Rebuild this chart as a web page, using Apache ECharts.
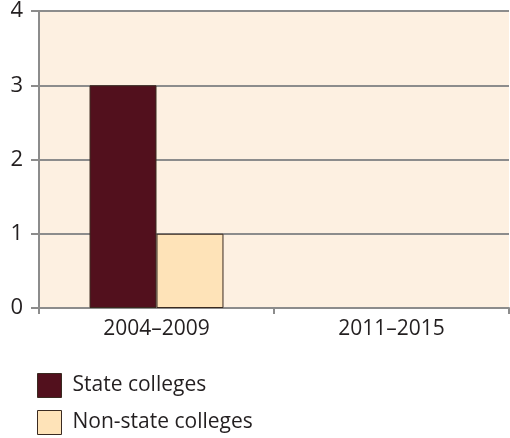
<!DOCTYPE html>
<html><head><meta charset="utf-8">
<script src="https://cdn.jsdelivr.net/npm/echarts@6/dist/echarts.min.js"></script>
<style>html,body{margin:0;padding:0;background:#fff}#c{width:510px;height:438px}</style>
</head><body><div id="c"></div>
<script>
const categories = ['2004–2009', '2011–2015'];
const stateColleges = [3, 0];
const nonStateColleges = [1, 0];
const yTicks = [0, 1, 2, 3, 4];

const chart = echarts.init(document.getElementById('c'), null, {renderer: 'canvas'});
const font = '"Open Sans", sans-serif';
const hideZero = arr => arr.map(v => (v === 0 ? '-' : v));
chart.setOption({
  animation: false,
  backgroundColor: '#ffffff',
  grid: {left: 39, right: 1, top: 11, bottom: 130, show: true, backgroundColor: '#fdf0e1', borderWidth: 0},
  legend: {
    orient: 'vertical', left: 37, top: 373, padding: 0, itemWidth: 24, itemHeight: 24, itemGap: 12,
    icon: 'rect',
    itemStyle: {borderColor: '#3a2a20', borderWidth: 1},
    textStyle: {fontFamily: font, fontSize: 21, color: '#231f20', padding: [0, 0, 0, 6]},
    data: ['State colleges', 'Non-state colleges']
  },
  xAxis: {
    type: 'category', data: categories,
    axisLine: {lineStyle: {color: '#8c8c8c', width: 2}},
    axisTick: {show: true, length: 6, lineStyle: {color: '#8c8c8c', width: 2}},
    axisLabel: {fontFamily: font, fontSize: 21, color: '#231f20', margin: 11}
  },
  yAxis: {
    type: 'value', min: yTicks[0], max: yTicks[yTicks.length - 1], interval: 1,
    axisLine: {show: true, lineStyle: {color: '#8c8c8c', width: 2}},
    axisTick: {show: true, length: 8, lineStyle: {color: '#8c8c8c', width: 2}},
    splitLine: {lineStyle: {color: '#8c8c8c', width: 2}},
    axisLabel: {fontFamily: font, fontSize: 22, color: '#231f20', margin: 16}
  },
  series: [
    {name: 'State colleges', type: 'bar', data: hideZero(stateColleges), barGap: '0%', barCategoryGap: '43%',
     itemStyle: {color: '#52101d', borderColor: '#3a2a20', borderWidth: 1}},
    {name: 'Non-state colleges', type: 'bar', data: hideZero(nonStateColleges),
     itemStyle: {color: '#fee3b8', borderColor: '#3a2a20', borderWidth: 1}}
  ]
});
</script></body></html>
